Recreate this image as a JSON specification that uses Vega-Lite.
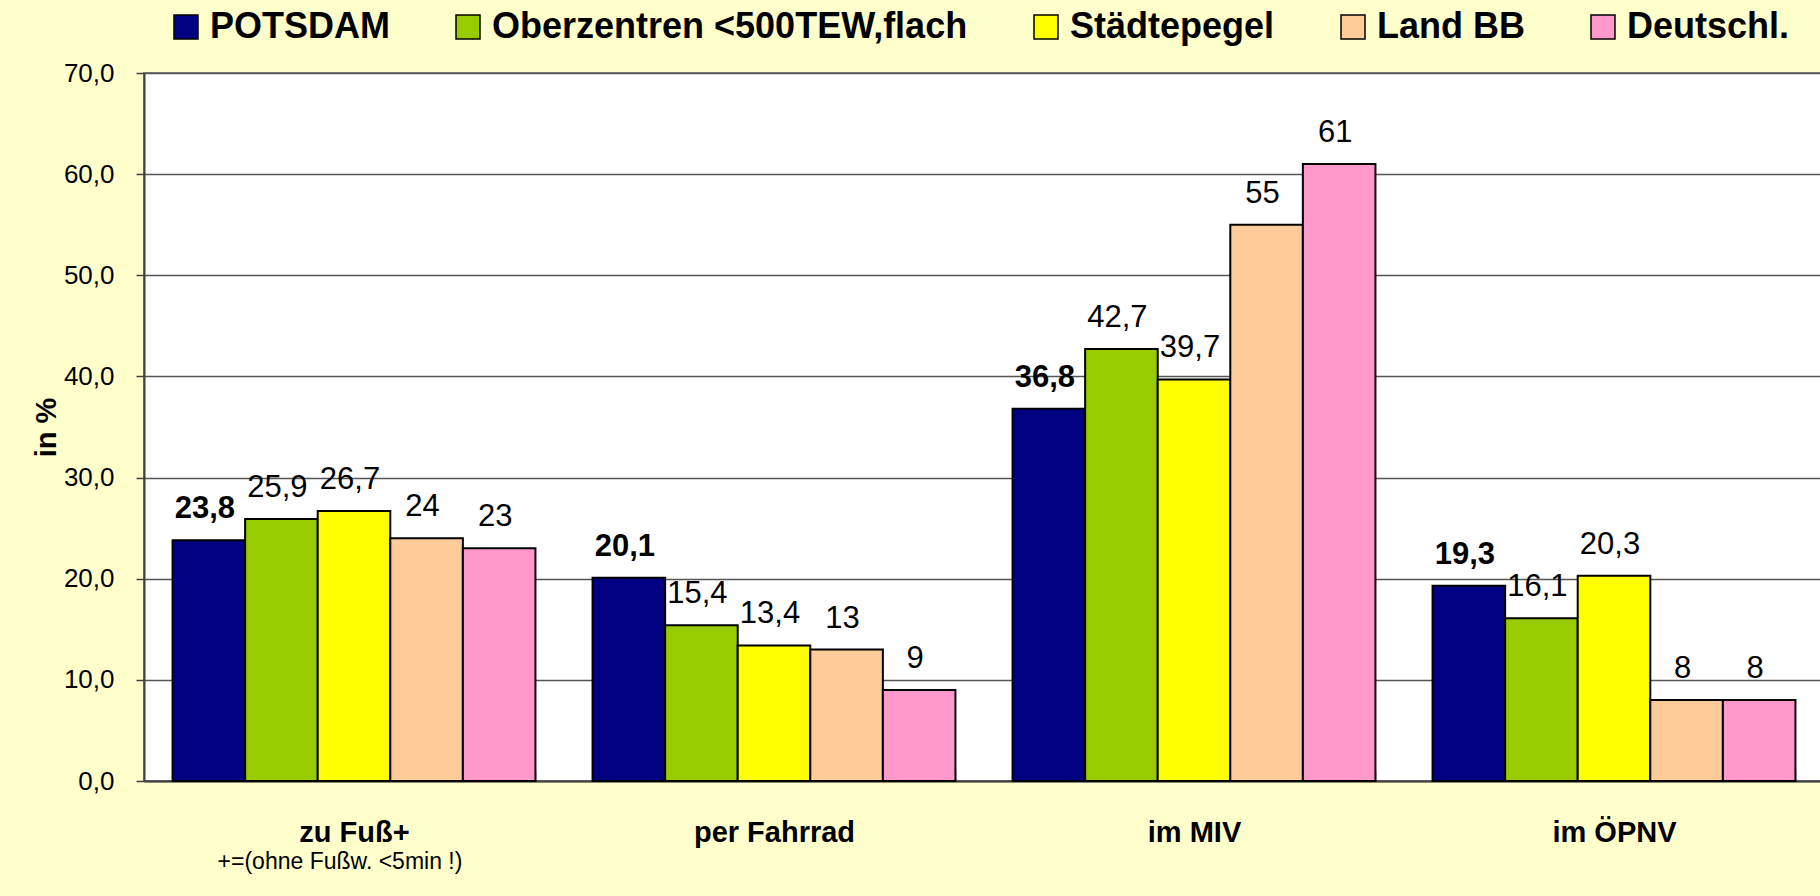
{
  "$schema": "https://vega.github.io/schema/vega-lite/v6.json",
  "width": 1680,
  "height": 708,
  "autosize": {"type": "none"},
  "padding": {"left": 144, "top": 73, "right": 0, "bottom": 115},
  "background": "#FFFFCC",
  "config": {
    "font": "Liberation Sans",
    "view": {"fill": "white", "stroke": "#808080", "strokeWidth": 2}
  },
  "data": {
    "values": [
      {"mode": "zu Fuß+", "region": "POTSDAM", "value": 23.8},
      {"mode": "zu Fuß+", "region": "Oberzentren <500TEW,flach", "value": 25.9},
      {"mode": "zu Fuß+", "region": "Städtepegel", "value": 26.7},
      {"mode": "zu Fuß+", "region": "Land BB", "value": 24},
      {"mode": "zu Fuß+", "region": "Deutschl.", "value": 23},
      {"mode": "per Fahrrad", "region": "POTSDAM", "value": 20.1},
      {"mode": "per Fahrrad", "region": "Oberzentren <500TEW,flach", "value": 15.4},
      {"mode": "per Fahrrad", "region": "Städtepegel", "value": 13.4},
      {"mode": "per Fahrrad", "region": "Land BB", "value": 13},
      {"mode": "per Fahrrad", "region": "Deutschl.", "value": 9},
      {"mode": "im MIV", "region": "POTSDAM", "value": 36.8},
      {"mode": "im MIV", "region": "Oberzentren <500TEW,flach", "value": 42.7},
      {"mode": "im MIV", "region": "Städtepegel", "value": 39.7},
      {"mode": "im MIV", "region": "Land BB", "value": 55},
      {"mode": "im MIV", "region": "Deutschl.", "value": 61},
      {"mode": "im ÖPNV", "region": "POTSDAM", "value": 19.3},
      {"mode": "im ÖPNV", "region": "Oberzentren <500TEW,flach", "value": 16.1},
      {"mode": "im ÖPNV", "region": "Städtepegel", "value": 20.3},
      {"mode": "im ÖPNV", "region": "Land BB", "value": 8},
      {"mode": "im ÖPNV", "region": "Deutschl.", "value": 8}
    ]
  },
  "transform": [{"calculate": "replace(toString(datum.value), '.', ',')", "as": "label"}],
  "layer": [
    {
      "mark": {"type": "bar", "stroke": "black", "strokeWidth": 2},
      "encoding": {
        "x": {
          "field": "mode", "type": "nominal",
          "scale": {"domain": ["zu Fuß+", "per Fahrrad", "im MIV", "im ÖPNV"], "paddingInner": 0.136, "paddingOuter": 0.068},
          "axis": {
            "title": null, "labelAngle": 0, "labelFontSize": 29, "labelFontWeight": "bold", "labelColor": "black",
            "labelPadding": 47, "labelBaseline": "top", "tickBand": "extent", "tickSize": -10, "tickColor": "#404040", "tickWidth": 1.5,
            "domainColor": "#404040", "domainWidth": 2
          }
        },
        "xOffset": {
          "field": "region", "type": "nominal",
          "scale": {"domain": ["POTSDAM", "Oberzentren <500TEW,flach", "Städtepegel", "Land BB", "Deutschl."], "paddingInner": 0, "paddingOuter": 0}
        },
        "y": {
          "field": "value", "type": "quantitative",
          "scale": {"domain": [0, 70], "nice": false},
          "axis": {
            "title": "in %", "titleFontSize": 29, "titleFontWeight": "bold", "titleColor": "black", "titlePadding": 2,
            "values": [0, 10, 20, 30, 40, 50, 60, 70],
            "labelExpr": "replace(format(datum.value, '.1f'), '.', ',')",
            "labelFontSize": 26, "labelColor": "black", "labelPadding": 22,
            "tickSize": 8, "tickColor": "#404040", "tickWidth": 1.5,
            "domainColor": "#404040", "domainWidth": 2,
            "grid": true, "gridColor": "#555555", "gridWidth": 1.5
          }
        },
        "color": {
          "field": "region", "type": "nominal",
          "scale": {
            "domain": ["POTSDAM", "Oberzentren <500TEW,flach", "Städtepegel", "Land BB", "Deutschl."],
            "range": ["#000080", "#99CC00", "#FFFF00", "#FFCC99", "#FF99CC"]
          },
          "legend": {
            "orient": "none", "legendX": 24, "legendY": -64, "direction": "horizontal", "title": null,
            "symbolType": "square", "symbolSize": 576, "symbolStrokeColor": "black", "symbolStrokeWidth": 1.5,
            "labelFontSize": 36, "labelFontWeight": "bold", "labelColor": "black", "labelOffset": 6,
            "columnPadding": 60, "labelLimit": 1000, "padding": 0
          }
        }
      }
    },
    {
      "transform": [{"filter": "datum.region !== 'POTSDAM'"}],
      "mark": {"type": "text", "fontSize": 31, "baseline": "alphabetic", "dy": -22, "dx": -4, "color": "black"},
      "encoding": {
        "x": {"field": "mode", "type": "nominal"},
        "xOffset": {"field": "region", "type": "nominal"},
        "y": {"field": "value", "type": "quantitative"},
        "text": {"field": "label"}
      }
    },
    {
      "transform": [{"filter": "datum.region === 'POTSDAM'"}],
      "mark": {"type": "text", "fontSize": 31, "fontWeight": "bold", "baseline": "alphabetic", "dy": -22, "dx": -4, "color": "black"},
      "encoding": {
        "x": {"field": "mode", "type": "nominal"},
        "xOffset": {"field": "region", "type": "nominal"},
        "y": {"field": "value", "type": "quantitative"},
        "text": {"field": "label"}
      }
    },
    {
      "data": {"values": [{"mode": "zu Fuß+", "note": "+=(ohne Fußw. <5min !)"}]},
      "mark": {"type": "text", "fontSize": 23, "baseline": "alphabetic", "dy": 88, "dx": -14, "color": "black"},
      "encoding": {
        "x": {"field": "mode", "type": "nominal"},
        "y": {"datum": 0},
        "text": {"field": "note"}
      }
    }
  ]
}
